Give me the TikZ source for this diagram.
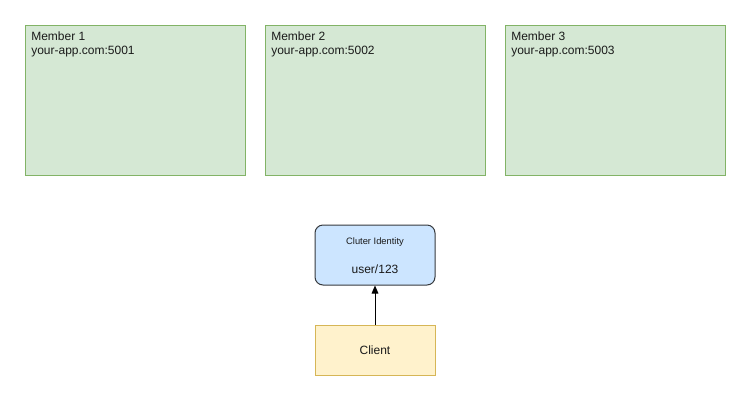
\documentclass[tikz,border=0pt]{standalone}
\usepackage{fontspec}
\setmainfont{Liberation Sans}
\usetikzlibrary{arrows.meta}
\definecolor{memfill}{HTML}{D5E8D4}
\definecolor{memline}{HTML}{82B366}
\definecolor{idfill}{HTML}{CCE5FF}
\definecolor{idline}{HTML}{36393D}
\definecolor{clifill}{HTML}{FFF2CC}
\definecolor{cliline}{HTML}{D6B656}
\definecolor{txt}{HTML}{1A1A1A}
\begin{document}
\begin{tikzpicture}[x=0.75pt,y=-0.75pt,
  member/.style={draw=memline,fill=memfill,line width=0.75pt,minimum width=165pt,minimum height=112.5pt,inner sep=0pt},
  memlabel/.style={anchor=north west,inner sep=0pt,align=left,font=\fontsize{9}{10.5}\selectfont,text=txt},
  identity/.style={draw=idline,fill=idfill,line width=0.75pt,rounded corners=6pt,minimum width=90pt,minimum height=45pt,inner sep=0pt},
  clientbox/.style={draw=cliline,fill=clifill,line width=0.75pt,minimum width=90pt,minimum height=37.5pt,inner sep=0pt,font=\fontsize{9}{10.5}\selectfont,text=txt}]
\useasboundingbox (0,0) rectangle (751,401);
% cluster members
\node[member] (m1) at (135,100) {};
\node[member] (m2) at (375,100) {};
\node[member] (m3) at (615,100) {};
\node[memlabel] (m1t) at (31,32) {Member 1\\your-app.com:5001};
\node[memlabel] (m2t) at (271,32) {Member 2\\your-app.com:5002};
\node[memlabel] (m3t) at (511,32) {Member 3\\your-app.com:5003};
% identity and client
\node[identity] (id) at (375,255) {};
\node[font=\fontsize{7}{8}\selectfont,text=txt,inner sep=0pt] (idt) at (375,242) {Cluter Identity};
\node[font=\fontsize{9}{10.5}\selectfont,text=txt,inner sep=0pt] (idv) at (375,269) {user/123};
\node[clientbox] (cl) at (375,350) {Client};
\draw[line width=0.75pt,-{Triangle[length=6pt,width=5pt]}] (cl.north) -- (id.south);
\end{tikzpicture}
\end{document}
